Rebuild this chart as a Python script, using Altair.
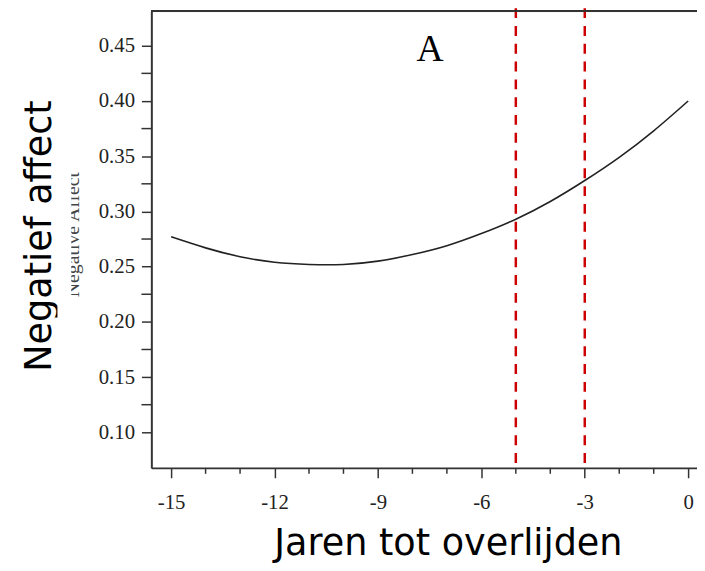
import altair as alt
import pandas as pd

# Curve (years to death vs. negative affect)
years = [-15, -14, -13, -12, -11, -10, -9, -8, -7, -6, -5, -4, -3, -2, -1, 0]
neg_affect = [0.277, 0.267, 0.259, 0.254, 0.252, 0.252, 0.255, 0.261, 0.269, 0.280,
              0.293, 0.309, 0.328, 0.349, 0.373, 0.400]

# Reference lines (red dashed)
ref_years = [-5, -3]

# Ticks
x_major = [-15, -12, -9, -6, -3, 0]
x_minor = [-14, -13, -11, -10, -8, -7, -5, -4, -2, -1]
y_major = [0.10, 0.15, 0.20, 0.25, 0.30, 0.35, 0.40, 0.45]
y_minor = [0.125, 0.175, 0.225, 0.275, 0.325, 0.375, 0.425]

# Panel label
panel_label = ["A"]
panel_x = [-7.49]
panel_y = [0.4464]

W, H = 552, 462
XDOM = [-15.574, 0.256]
YDOM = [0.0678, 0.4813]

curve_df = pd.DataFrame({"year": years, "na": neg_affect})
ref_df = pd.DataFrame({"year": ref_years})
xminor_df = pd.DataFrame({"year": x_minor})
yminor_df = pd.DataFrame({"na": y_minor})
label_df = pd.DataFrame({"t": panel_label, "year": panel_x, "na": panel_y})

xscale = alt.Scale(domain=XDOM, nice=False, zero=False)
yscale = alt.Scale(domain=YDOM, nice=False, zero=False)

AX = "#333333"

xaxis = alt.Axis(
    values=x_major, grid=False,
    labelExpr="datum.value < 0 ? '-' + abs(datum.value) : '' + datum.value",
    domainColor=AX, domainWidth=2, tickColor=AX, tickWidth=1.5, tickSize=10,
    labelFont="Liberation Serif", labelFontSize=21, labelColor="#222222",
    labelPadding=14,
    title="Jaren tot overlijden", titleFont="DejaVu Sans", titleFontSize=37,
    titleFontWeight="normal", titleColor="black",
    titleX=300, titleY=77, titleBaseline="middle", titleAlign="center",
)
yaxis = alt.Axis(
    values=y_major, format=".2f", grid=False,
    domainColor=AX, domainWidth=2, tickColor=AX, tickWidth=1.5, tickSize=10,
    labelFont="Liberation Serif", labelFontSize=21, labelColor="#222222",
    labelPadding=7,
    title="Negatief affect", titleFont="DejaVu Sans", titleFontSize=37,
    titleFontWeight="normal", titleColor="black",
    titleX=-113, titleY=227, titleBaseline="middle", titleAlign="center",
    titleAngle=270,
)

X = alt.X("year:Q", scale=xscale, axis=xaxis)
Y = alt.Y("na:Q", scale=yscale, axis=yaxis)

curve = alt.Chart(curve_df).mark_line(
    color="#222222", strokeWidth=1.6, interpolate="natural"
).encode(x=X, y=Y)

refs = alt.Chart(ref_df).mark_rule(
    color="#cc0000", strokeWidth=2.5, strokeDash=[10, 8]
).encode(
    x=X,
    y=alt.value(-3),
    y2=alt.value(H),
)

xminor = alt.Chart(xminor_df).mark_rule(color=AX, strokeWidth=1.5).encode(
    x=X,
    y=alt.value(H),
    y2=alt.value(H + 6),
)

yminor = alt.Chart(yminor_df).mark_rule(color=AX, strokeWidth=1.5).encode(
    y=Y,
    x=alt.value(-10),
    x2=alt.value(0),
)

top_border = alt.Chart(curve_df).mark_rule(color=AX, strokeWidth=1.6).encode(
    x=alt.value(0), x2=alt.value(W), y=alt.value(0)
)

panel = alt.Chart(label_df).mark_text(
    font="Liberation Serif", fontSize=38, color="black", baseline="middle"
).encode(x=X, y=Y, text="t:N")

old_title = alt.Chart(label_df).mark_text(
    font="Liberation Serif", fontSize=20, color="#444444", angle=270,
    baseline="alphabetic", align="center"
).encode(
    x=alt.value(-73), y=alt.value(226), text=alt.value("Negative Affect")
)

# white strip that hides the upper half of the old (English) axis title
mask = alt.Chart(label_df).mark_rect(color="white").encode(
    x=alt.value(-95), x2=alt.value(-81), y=alt.value(140), y2=alt.value(310)
)

chart = alt.layer(refs, curve, xminor, yminor, top_border, panel, old_title, mask).properties(
    width=W, height=H,
    padding={"left": 145, "top": 0, "right": 0, "bottom": 93},
    autosize=alt.AutoSizeParams(type="none"),
).configure_view(stroke=None).configure(background="white")

chart.save("out.html", embed_options={"renderer": "svg", "actions": False})
